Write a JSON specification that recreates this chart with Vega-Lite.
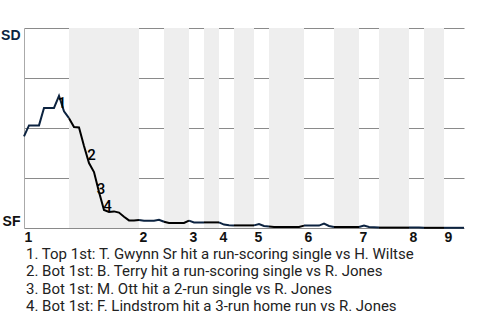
{
  "$schema": "https://vega.github.io/schema/vega-lite/v6.json",
  "width": 440,
  "height": 200,
  "autosize": "none",
  "padding": {"left": 24, "top": 28, "right": 16, "bottom": 92},
  "background": "white",
  "config": {"view": {"stroke": null}},
  "title": {
    "text": [
      "1. Top 1st: T. Gwynn Sr hit a run-scoring single vs H. Wiltse",
      "2. Bot 1st: B. Terry hit a run-scoring single vs R. Jones",
      "3. Bot 1st: M. Ott hit a 2-run single vs R. Jones",
      "4. Bot 1st: F. Lindstrom hit a 3-run home run vs R. Jones"
    ],
    "orient": "bottom",
    "anchor": "start",
    "frame": "group",
    "offset": 3,
    "dx": 2,
    "font": "Roboto",
    "fontSize": 15,
    "fontWeight": "normal",
    "color": "#222222",
    "lineHeight": 17.3
  },
  "datasets": {
    "wp": [
      {"i":0,"w":0.458,"h":"T1","t":"SD"},{"i":1,"w":0.513,"h":"T1","t":"SD"},{"i":2,"w":0.513,"h":"T1","t":"SD"},{"i":3,"w":0.513,"h":"T1","t":"SD"},{"i":4,"w":0.6,"h":"T1","t":"SD"},{"i":5,"w":0.6,"h":"T1","t":"SD"},{"i":6,"w":0.6,"h":"T1","t":"SD"},{"i":7,"w":0.661,"h":"T1","t":"SD"},{"i":8,"w":0.583,"h":"T1","t":"SD"},{"i":9,"w":0.549,"h":"T1","t":"SD"},
      {"i":9,"w":0.549,"h":"B1","t":"SF"},{"i":10,"w":0.505,"h":"B1","t":"SF"},{"i":11,"w":0.503,"h":"B1","t":"SF"},{"i":12,"w":0.41,"h":"B1","t":"SF"},{"i":13,"w":0.325,"h":"B1","t":"SF"},{"i":14,"w":0.28,"h":"B1","t":"SF"},{"i":15,"w":0.18,"h":"B1","t":"SF"},{"i":16,"w":0.09,"h":"B1","t":"SF"},{"i":17,"w":0.08,"h":"B1","t":"SF"},{"i":18,"w":0.083,"h":"B1","t":"SF"},{"i":19,"w":0.077,"h":"B1","t":"SF"},{"i":20,"w":0.056,"h":"B1","t":"SF"},{"i":21,"w":0.038,"h":"B1","t":"SF"},{"i":22,"w":0.038,"h":"B1","t":"SF"},{"i":23,"w":0.04,"h":"B1","t":"SF"},
      {"i":23,"w":0.04,"h":"T2","t":"SD"},{"i":24,"w":0.036,"h":"T2","t":"SD"},{"i":25,"w":0.036,"h":"T2","t":"SD"},{"i":26,"w":0.036,"h":"T2","t":"SD"},{"i":27,"w":0.041,"h":"T2","t":"SD"},{"i":28,"w":0.031,"h":"T2","t":"SD"},
      {"i":28,"w":0.031,"h":"B2","t":"SF"},{"i":29,"w":0.025,"h":"B2","t":"SF"},{"i":30,"w":0.025,"h":"B2","t":"SF"},{"i":31,"w":0.025,"h":"B2","t":"SF"},{"i":32,"w":0.025,"h":"B2","t":"SF"},{"i":33,"w":0.037,"h":"B2","t":"SF"},
      {"i":33,"w":0.037,"h":"T3","t":"SD"},{"i":34,"w":0.028,"h":"T3","t":"SD"},{"i":35,"w":0.028,"h":"T3","t":"SD"},{"i":36,"w":0.028,"h":"T3","t":"SD"},
      {"i":36,"w":0.028,"h":"B3","t":"SF"},{"i":37,"w":0.028,"h":"B3","t":"SF"},{"i":38,"w":0.028,"h":"B3","t":"SF"},{"i":39,"w":0.028,"h":"B3","t":"SF"},
      {"i":39,"w":0.028,"h":"T4","t":"SD"},{"i":40,"w":0.017,"h":"T4","t":"SD"},{"i":41,"w":0.014,"h":"T4","t":"SD"},{"i":42,"w":0.013,"h":"T4","t":"SD"},
      {"i":42,"w":0.013,"h":"B4","t":"SF"},{"i":43,"w":0.013,"h":"B4","t":"SF"},{"i":44,"w":0.013,"h":"B4","t":"SF"},{"i":45,"w":0.013,"h":"B4","t":"SF"},{"i":46,"w":0.013,"h":"B4","t":"SF"},
      {"i":46,"w":0.013,"h":"T5","t":"SD"},{"i":47,"w":0.02,"h":"T5","t":"SD"},{"i":48,"w":0.01,"h":"T5","t":"SD"},{"i":49,"w":0.008,"h":"T5","t":"SD"},
      {"i":49,"w":0.008,"h":"B5","t":"SF"},{"i":50,"w":0.005,"h":"B5","t":"SF"},{"i":51,"w":0.005,"h":"B5","t":"SF"},{"i":52,"w":0.005,"h":"B5","t":"SF"},{"i":53,"w":0.005,"h":"B5","t":"SF"},{"i":54,"w":0.005,"h":"B5","t":"SF"},{"i":55,"w":0.005,"h":"B5","t":"SF"},{"i":56,"w":0.012,"h":"B5","t":"SF"},
      {"i":56,"w":0.012,"h":"T6","t":"SD"},{"i":57,"w":0.012,"h":"T6","t":"SD"},{"i":58,"w":0.012,"h":"T6","t":"SD"},{"i":59,"w":0.012,"h":"T6","t":"SD"},{"i":60,"w":0.022,"h":"T6","t":"SD"},{"i":61,"w":0.01,"h":"T6","t":"SD"},{"i":62,"w":0.005,"h":"T6","t":"SD"},
      {"i":62,"w":0.005,"h":"B6","t":"SF"},{"i":63,"w":0.005,"h":"B6","t":"SF"},{"i":64,"w":0.005,"h":"B6","t":"SF"},{"i":65,"w":0.005,"h":"B6","t":"SF"},{"i":66,"w":0.005,"h":"B6","t":"SF"},{"i":67,"w":0.005,"h":"B6","t":"SF"},
      {"i":67,"w":0.005,"h":"T7","t":"SD"},{"i":68,"w":0.012,"h":"T7","t":"SD"},{"i":69,"w":0.005,"h":"T7","t":"SD"},{"i":70,"w":0.004,"h":"T7","t":"SD"},{"i":71,"w":0.002,"h":"T7","t":"SD"},
      {"i":71,"w":0.002,"h":"B7","t":"SF"},{"i":72,"w":0.002,"h":"B7","t":"SF"},{"i":73,"w":0.002,"h":"B7","t":"SF"},{"i":74,"w":0.002,"h":"B7","t":"SF"},{"i":75,"w":0.002,"h":"B7","t":"SF"},{"i":76,"w":0.002,"h":"B7","t":"SF"},{"i":77,"w":0.002,"h":"B7","t":"SF"},
      {"i":77,"w":0.002,"h":"T8","t":"SD"},{"i":78,"w":0.002,"h":"T8","t":"SD"},{"i":79,"w":0.002,"h":"T8","t":"SD"},{"i":80,"w":0.001,"h":"T8","t":"SD"},
      {"i":80,"w":0.001,"h":"B8","t":"SF"},{"i":81,"w":0.001,"h":"B8","t":"SF"},{"i":82,"w":0.001,"h":"B8","t":"SF"},{"i":83,"w":0.001,"h":"B8","t":"SF"},{"i":84,"w":0.001,"h":"B8","t":"SF"},
      {"i":84,"w":0.001,"h":"T9","t":"SD"},{"i":85,"w":0.001,"h":"T9","t":"SD"},{"i":86,"w":0.001,"h":"T9","t":"SD"},{"i":87,"w":0.001,"h":"T9","t":"SD"},{"i":88,"w":0.001,"h":"T9","t":"SD"}
    ],
    "bands": [
      {"s":9,"e":23},{"s":28,"e":33},{"s":36,"e":39},{"s":42,"e":46},{"s":49,"e":56},{"s":62,"e":67},{"s":71,"e":77},{"s":80,"e":84}
    ],
    "notes": [
      {"x":7.6,"y":0.627,"n":"1"},{"x":13.5,"y":0.363,"n":"2"},{"x":15.4,"y":0.197,"n":"3"},{"x":16.7,"y":0.108,"n":"4"}
    ]
  },
  "layer": [
    {
      "data": {"name": "bands"},
      "mark": {"type": "rect", "color": "#eeeeee"},
      "encoding": {
        "x": {"field": "s", "type": "quantitative", "scale": {"domain": [0, 88], "nice": false, "zero": false},
          "axis": {"values": [0,23,33,39,46,56,67,77,84],
            "labelExpr": "'' + (indexof([0,23,33,39,46,56,67,77,84], datum.value) + 1)",
            "grid": false, "ticks": false, "domain": false, "title": null,
            "labelAlign": "left", "labelBaseline": "top", "labelPadding": 2,
            "labelFont": "Liberation Sans", "labelFontWeight": "bold", "labelFontSize": 14,
            "labelColor": "#111111", "labelFlush": false, "labelOverlap": false}},
        "x2": {"field": "e"}
      }
    },
    {
      "data": {"name": "bands"},
      "mark": {"type": "rule", "opacity": 0},
      "encoding": {
        "y": {"datum": 0, "type": "quantitative", "scale": {"domain": [0, 1], "nice": false},
          "axis": {"values": [0, 0.25, 0.5, 0.75, 1],
            "labelExpr": "datum.value == 1 ? 'SD' : (datum.value == 0 ? 'SF' : '')",
            "labelBaseline": {"expr": "datum.value == 1 ? 'top' : 'bottom'"},
            "labelColor": {"expr": "datum.value == 1 ? '#0c2340' : '#111111'"},
            "grid": true, "gridColor": "#8a8a8a", "gridWidth": 1,
            "domain": true, "domainColor": "#aaaaaa", "ticks": false, "title": null,
            "labelFont": "Liberation Sans", "labelFontWeight": "bold", "labelFontSize": 14,
            "labelPadding": 4}}
      }
    },
    {
      "data": {"name": "wp"},
      "mark": {"type": "line", "strokeWidth": 2},
      "encoding": {
        "x": {"field": "i", "type": "quantitative"},
        "y": {"field": "w", "type": "quantitative"},
        "detail": {"field": "h"},
        "color": {"field": "t", "type": "nominal", "scale": {"domain": ["SD", "SF"], "range": ["#0c2340", "#000000"]}, "legend": null}
      }
    },
    {
      "data": {"name": "notes"},
      "mark": {"type": "text", "font": "Roboto", "fontSize": 15, "fill": "#000000", "fontWeight": 500, "align": "center", "baseline": "middle"},
      "encoding": {
        "x": {"field": "x", "type": "quantitative"},
        "y": {"field": "y", "type": "quantitative"},
        "text": {"field": "n"}
      }
    }
  ]
}
